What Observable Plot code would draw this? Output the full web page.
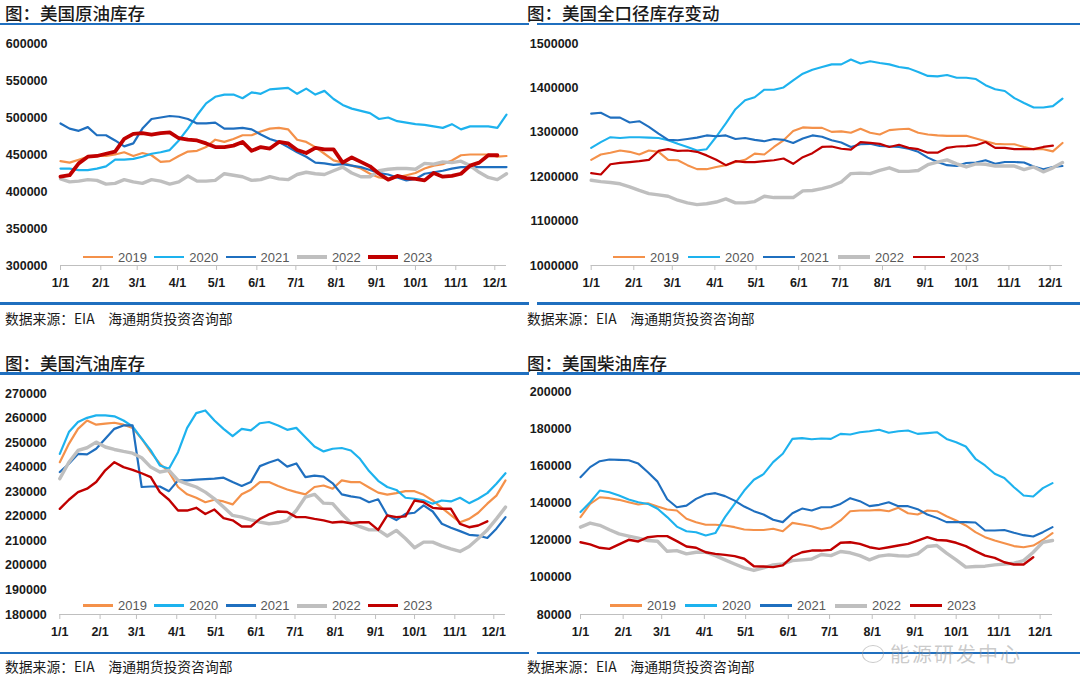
<!DOCTYPE html>
<html><head><meta charset="utf-8">
<script src="https://cdn.jsdelivr.net/npm/d3@7"></script>
<script src="https://cdn.jsdelivr.net/npm/@observablehq/plot@0.6"></script>
<style>
body{margin:0;background:#fff;}
#root{position:relative;width:1080px;height:678px;overflow:hidden;background:#fff;font-family:"Noto Sans CJK SC",sans-serif;}
.title{position:absolute;font-size:17.5px;font-weight:500;color:#1a1a1a;line-height:1;white-space:nowrap;}
.rule{position:absolute;height:2.6px;background:#1F6FBF;}
.src{position:absolute;font-size:13.8px;color:#1a1a1a;white-space:nowrap;line-height:1;}
.chart{position:absolute;}
.lg{position:absolute;font-family:"Liberation Sans",Arial,sans-serif;font-size:13px;color:#595959;line-height:1;white-space:nowrap;}
.wm{position:absolute;font-size:20px;color:rgba(150,150,150,0.5);white-space:nowrap;line-height:1;letter-spacing:2px;}
.wmi{position:absolute;border:1.5px solid rgba(150,150,150,0.5);border-radius:50%;}
</style></head><body><div id="root"></div>
<script>
const years = ["2019","2020","2021","2022","2023"];
const colors = ["#F4914A","#1DB2EE","#1F6FBF","#BFBFBF","#C00000"];
const monthLabels = ["1/1","2/1","3/1","4/1","5/1","6/1","7/1","8/1","9/1","10/1","11/1","12/1"];

// 图：美国原油库存
const crudeTicks = [300000,350000,400000,450000,500000,550000,600000];
const crude2019 = [441000,439000,443000,447000,448000,448000,450000,453000,448000,452000,449000,440000,441000,448000,454000,455000,460000,470000,467000,471000,476000,476000,481000,485000,486000,484000,470000,467000,460000,451000,442000,439000,435000,431000,424000,419000,417000,419000,422000,425000,431000,435000,437000,442000,449000,450000,450000,450000,447000,448000];
const crude2020 = [431000,431000,429000,429000,431000,434000,443000,443000,444000,447000,451000,453000,456000,469000,485000,503000,519000,528000,531000,531000,526000,534000,532000,538000,539000,540000,532000,539000,531000,536000,525000,517000,512000,509000,506000,498000,500000,495000,493000,491000,490000,488000,486000,491000,484000,488000,488000,488000,486000,504000];
const crude2021 = [492000,485000,482000,487000,476000,476000,469000,461000,465000,485000,498000,500000,502000,501000,498000,492000,492000,493000,485000,485000,486000,484000,477000,471000,467000,460000,453000,447000,439000,438000,436000,437000,435000,433000,429000,425000,423000,419000,415000,417000,424000,426000,428000,431000,433000,433000,433000,433000,433000,433000];
const crude2022 = [417000,413000,414000,416000,415000,410000,411000,416000,413000,411000,416000,414000,410000,413000,421000,414000,414000,415000,424000,422000,420000,415000,416000,420000,417000,416000,423000,426000,424000,423000,428000,433000,425000,420000,420000,428000,430000,431000,431000,430000,438000,437000,440000,439000,441000,435000,426000,419000,416000,424000];
const crude2023 = [420000,422000,438000,447000,448000,451000,454000,471000,478000,479000,477000,479000,480000,472000,470000,469000,465000,460000,460000,462000,467000,455000,460000,458000,467000,465000,456000,452000,459000,457000,457000,439000,446000,440000,434000,424000,416000,421000,418000,417000,415000,425000,420000,421000,424000,435000,439000,449000,449000];

// 图：美国全口径库存变动
const totalTicks = [1000000,1100000,1200000,1300000,1400000,1500000];
const total2019 = [1238000,1250000,1254000,1259000,1256000,1250000,1259000,1256000,1238000,1237000,1226000,1217000,1217000,1222000,1226000,1233000,1238000,1252000,1250000,1267000,1282000,1303000,1311000,1310000,1310000,1301000,1302000,1299000,1308000,1299000,1295000,1305000,1307000,1308000,1299000,1295000,1293000,1292000,1292000,1292000,1286000,1280000,1274000,1273000,1273000,1267000,1262000,1262000,1257000,1276000];
const total2020 = [1265000,1278000,1289000,1287000,1289000,1289000,1288000,1287000,1282000,1274000,1267000,1259000,1262000,1290000,1320000,1352000,1372000,1379000,1396000,1396000,1401000,1417000,1432000,1441000,1447000,1453000,1453000,1464000,1455000,1460000,1456000,1453000,1447000,1444000,1436000,1427000,1426000,1429000,1423000,1423000,1420000,1406000,1397000,1393000,1377000,1366000,1356000,1356000,1359000,1376000];
const total2021 = [1342000,1344000,1333000,1333000,1322000,1325000,1312000,1297000,1283000,1282000,1285000,1288000,1293000,1291000,1293000,1285000,1287000,1283000,1280000,1285000,1283000,1276000,1286000,1293000,1290000,1282000,1277000,1267000,1273000,1274000,1269000,1268000,1267000,1263000,1256000,1243000,1233000,1226000,1224000,1231000,1232000,1237000,1229000,1233000,1233000,1232000,1223000,1217000,1222000,1224000];
const total2022 = [1192000,1189000,1187000,1184000,1177000,1169000,1162000,1159000,1156000,1147000,1141000,1137000,1139000,1143000,1150000,1141000,1141000,1144000,1156000,1153000,1153000,1153000,1168000,1169000,1173000,1179000,1188000,1207000,1208000,1207000,1214000,1220000,1212000,1212000,1214000,1227000,1233000,1238000,1229000,1222000,1229000,1228000,1224000,1224000,1224000,1216000,1222000,1211000,1220000,1232000];
const total2023 = [1208000,1205000,1228000,1231000,1233000,1235000,1238000,1258000,1262000,1258000,1259000,1256000,1248000,1238000,1226000,1235000,1233000,1233000,1235000,1237000,1241000,1229000,1244000,1253000,1267000,1268000,1263000,1261000,1278000,1276000,1274000,1267000,1272000,1265000,1262000,1254000,1254000,1265000,1268000,1269000,1271000,1278000,1265000,1265000,1262000,1262000,1262000,1267000,1270000];

// 图：美国汽油库存
const gasTicks = [180000,190000,200000,210000,220000,230000,240000,250000,260000,270000];
const gas2019 = [242100,249600,255700,259100,257400,257800,258200,257400,256100,251700,246200,241500,238100,232000,229000,227600,225800,226800,226100,224900,229000,230900,234000,234000,232400,231000,229900,229000,232000,232600,231300,234700,234000,234000,231800,229700,228900,229500,230300,230300,228800,226500,223500,220500,217600,219000,221500,225200,228500,234700];
const gas2020 = [245500,254400,258500,260200,261200,261200,260800,259100,256700,251700,246900,240800,239400,246200,256100,262100,263200,259100,255700,252700,255700,255100,258000,258500,257100,255300,256100,252300,248500,246500,247600,247900,246900,243500,238500,234500,232000,230800,227600,227200,226600,225200,226500,226100,227600,225400,227200,229500,233300,237600];
const gas2021 = [238100,241500,245500,245300,247600,251700,255700,257100,257100,232000,232200,232200,230300,234700,234700,235000,235200,235400,235800,234000,232400,234000,240500,242000,243200,240300,241600,236000,236600,236200,233500,229000,228200,227600,225800,227000,220500,218500,221000,221500,224500,222000,217000,215400,214000,212500,212200,211200,215000,219700];
const gas2022 = [235400,242100,246900,248000,250300,248300,247300,246500,245800,243900,240100,238100,238800,234700,233300,232000,229900,227200,223800,220400,219700,218600,217700,217000,217400,218400,222400,227900,229000,225400,225200,221000,217300,215800,214500,214500,212000,214300,211000,207200,209500,209500,208000,206800,205700,207700,211000,214500,219000,223800];
const gas2023 = [223100,226800,229900,231300,234000,238800,242100,240100,239000,237600,236000,229900,226800,222400,222400,223500,221000,222800,219300,218400,215900,215900,219000,220800,222000,221800,219700,219700,219000,218400,217500,217800,217200,217600,217600,214500,220400,219700,220000,226500,225800,223500,223100,223100,217000,215600,216300,218000];

// 图：美国柴油库存
const dslTicks = [80000,100000,120000,140000,160000,180000,200000];
const dsl2019 = [132400,139500,143100,142600,141700,140400,139200,139900,138100,136500,136000,131500,129700,128300,128300,127900,127000,125700,125500,125500,126100,124800,129300,128400,127500,125900,127000,130600,135600,136000,136000,136300,135600,137400,134500,133800,136000,135600,132900,130600,127900,124300,121600,119800,118400,116800,116200,117100,120100,123800];
const dsl2020 = [135100,140400,146700,145800,144000,141900,140400,139500,136900,132400,127300,124800,124300,122500,123800,132400,139500,146700,152500,155500,162000,166500,174500,174900,174300,174700,174500,177200,176900,178100,178600,179400,177800,178600,179000,177200,177600,178100,174500,172700,170400,163800,160200,155700,153500,148500,144000,143500,148000,150700];
const dsl2021 = [153900,159300,162500,163400,163200,163000,161200,156500,151500,142000,137700,138600,142200,144600,145300,143700,141300,138100,135600,133800,131000,129700,134500,137000,136000,137700,137700,139500,142600,141000,138300,139000,140400,138300,138300,136700,133800,132000,129700,129700,129700,129500,125200,125200,125500,124000,122700,122000,124300,127000];
const dsl2022 = [127000,129200,128000,125600,123400,122200,121100,119800,119400,114000,114400,112600,113500,113500,111700,109400,107200,105100,103700,105100,106700,107200,109000,109400,109900,112300,111700,113900,113200,111700,109400,111400,112100,111600,111400,112600,116600,117100,113000,109400,105500,105800,106000,106700,107100,107600,109000,113500,118900,119800];
const dsl2023 = [118900,117700,115900,115300,117700,120200,119300,121600,122200,122200,119500,116600,115900,113500,112600,112100,111400,110000,106000,105800,105500,106400,111200,113500,114400,114400,114800,118600,118900,118000,116200,115300,116200,117100,118000,119800,121600,120100,119800,118600,116800,114100,111700,110500,108100,106900,106900,110800];

const root = document.getElementById("root");
function el(cls, style, text) {
  const d = document.createElement("div");
  d.className = cls;
  Object.assign(d.style, style);
  if (text != null) d.textContent = text;
  root.appendChild(d);
  return d;
}

const start = new Date(Date.UTC(2021, 0, 1));
const end = new Date(Date.UTC(2021, 0, 1 + 343));
const months = d3.utcMonths(start, end);

function chart(p) {
  const marks = [
    Plot.ruleY([p.domain[0]], {stroke: "#BFBFBF", strokeWidth: 1}),
    Plot.axisX(months, {tickSize: 5, tickPadding: 8, stroke: "#BFBFBF", fill: "#1a1a1a", fontWeight: "bold", fontSize: 12.5, fontFamily: "Liberation Sans", label: null, tickFormat: d => monthLabels[d.getUTCMonth()]}),
    Plot.axisY(p.ticks, {tickSize: 0, tickPadding: p.pad, fill: "#1a1a1a", fontWeight: "bold", fontSize: 12.5, fontFamily: "Liberation Sans", label: null, tickFormat: d => String(d)})
  ];
  p.series.forEach((vals, k) => {
    const rows = vals.map((v, i) => ({date: new Date(Date.UTC(2021, 0, 1 + 7 * i)), value: v}));
    marks.push(Plot.line(rows, {x: "date", y: "value", stroke: colors[k], strokeWidth: p.widths[k], strokeLinejoin: "round", strokeLinecap: "round"}));
  });
  const svg = Plot.plot({
    width: p.width, height: p.height,
    marginLeft: p.mL, marginRight: p.mR, marginTop: p.mT, marginBottom: p.mB,
    x: {type: "utc", domain: [start, end]},
    y: {domain: p.domain},
    style: {background: "transparent", overflow: "visible", fontFamily: "Liberation Sans"},
    marks
  });
  svg.classList.add("chart");
  svg.style.left = p.left + "px";
  svg.style.top = p.top + "px";
  svg.style.position = "absolute";
  root.appendChild(svg);
}

function legend(x0, yc, spacing, len, widths) {
  years.forEach((y, k) => {
    const x = x0 + k * spacing;
    const w = widths[k] + 0.6;
    el("lg", {left: x + "px", top: (yc - w / 2) + "px", width: len + "px", height: w + "px", background: colors[k]});
    el("lg", {left: (x + len + 5) + "px", top: (yc - 6.5) + "px"}, y);
  });
}

const panels = [
  {left: 0, top: 30, width: 530, height: 270, mL: 60, mR: 24, mT: 13, mB: 35, pad: 13,
   domain: [300000, 600000], ticks: crudeTicks, series: [crude2019, crude2020, crude2021, crude2022, crude2023],
   widths: [2.2, 2.2, 2.2, 3.4, 3.8], title: "图：美国原油库存", tx: 5, ty: 4, r1: 22.7, r2: 302.3, sy: 312, rx: 0, rw: 529,
   lg: [83, 257, 71.3, 30]},
  {left: 530, top: 30, width: 550, height: 270, mL: 60.7, mR: 18, mT: 13, mB: 35, pad: 12.7,
   domain: [1000000, 1500000], ticks: totalTicks, series: [total2019, total2020, total2021, total2022, total2023],
   widths: [2.1, 2.1, 2.1, 3.4, 2.2], title: "图：美国全口径库存变动", tx: 527, ty: 4, r1: 22.7, r2: 302.3, sy: 312, rx: 537, rw: 543,
   lg: [613, 257, 75, 32]},
  {left: 0, top: 378, width: 530, height: 272, mL: 59.3, mR: 25, mT: 15.3, mB: 36, pad: 13,
   domain: [180000, 270000], ticks: gasTicks, series: [gas2019, gas2020, gas2021, gas2022, gas2023],
   widths: [2.2, 2.2, 2.2, 3.4, 2.4], title: "图：美国汽油库存", tx: 5, ty: 354, r1: 372.2, r2: 651.7, sy: 660, rx: 0, rw: 529,
   lg: [83, 605.7, 71.3, 30]},
  {left: 530, top: 378, width: 550, height: 272, mL: 50, mR: 28, mT: 13, mB: 36, pad: 9,
   domain: [80000, 200000], ticks: dslTicks, series: [dsl2019, dsl2020, dsl2021, dsl2022, dsl2023],
   widths: [2.1, 2.1, 2.1, 3.4, 2.4], title: "图：美国柴油库存", tx: 527, ty: 354, r1: 372.2, r2: 651.7, sy: 660, rx: 537, rw: 543,
   lg: [610, 605.7, 75, 32]}
];

panels.forEach(p => {
  el("title", {left: p.tx + "px", top: p.ty + "px"}, p.title);
  el("rule", {left: p.rx + "px", top: p.r1 + "px", width: p.rw + "px"});
  el("rule", {left: p.rx + "px", top: p.r2 + "px", width: p.rw + "px"});
  el("src", {left: p.tx + "px", top: p.sy + "px"}, "数据来源：EIA　海通期货投资咨询部");
  chart(p);
  legend(p.lg[0], p.lg[1], p.lg[2], p.lg[3], p.widths);
});

el("wmi", {left: "862px", top: "645px", width: "20px", height: "16px"});
el("wm", {left: "890px", top: "644px"}, "能源研发中心");
</script></body></html>
